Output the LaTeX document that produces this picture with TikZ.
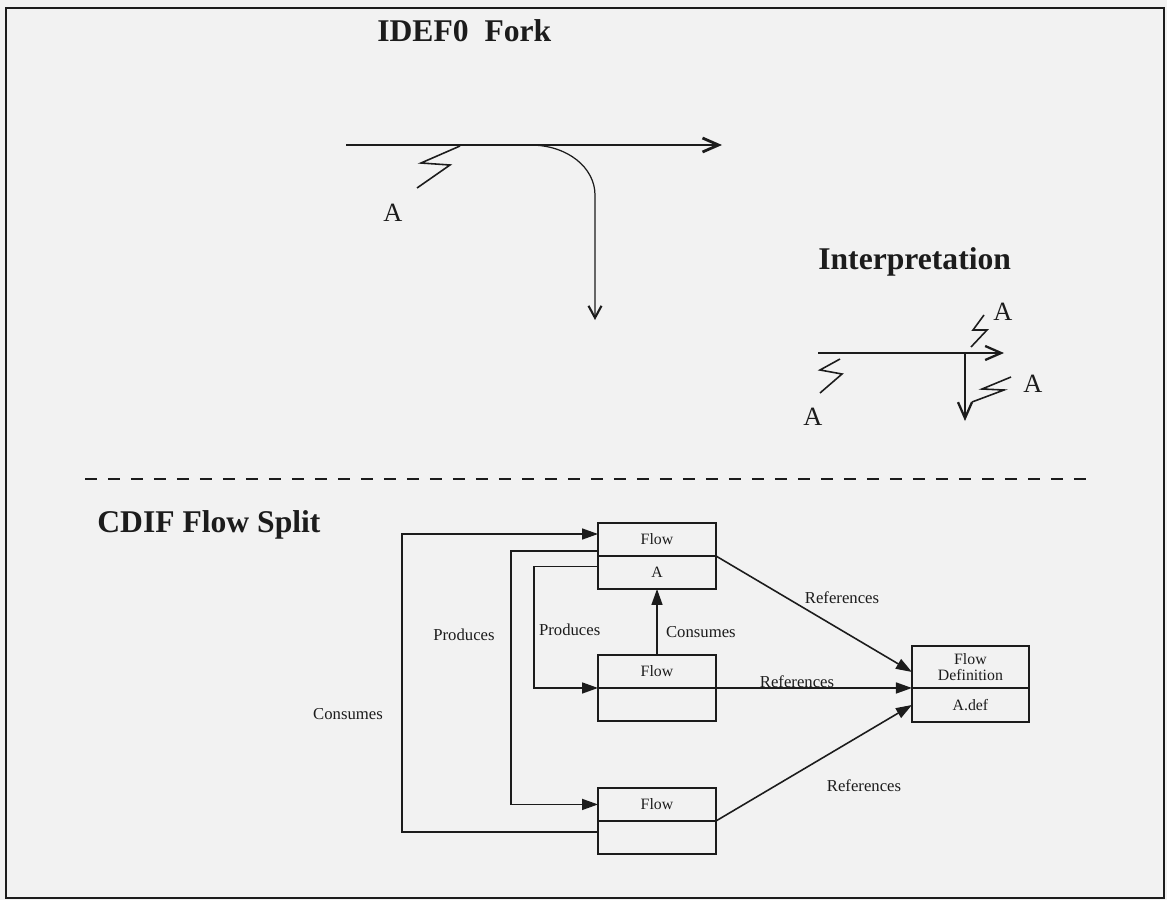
\documentclass[tikz,border=0pt]{standalone}
\usepackage{fontspec}
\setmainfont{Liberation Serif}
\usetikzlibrary{arrows.meta, positioning}
\definecolor{paper}{RGB}{242,242,242}
\definecolor{ink}{RGB}{28,28,28}

\begin{document}
\begin{tikzpicture}[x=0.02cm, y=-0.02cm, color=ink,
    title/.style={font=\fontsize{18}{20}\selectfont\bfseries, anchor=base west, inner sep=0pt},
    letter/.style={font=\fontsize{15}{16}\selectfont, inner sep=0pt},
    squig/.style={line width=0.9pt},
    barb/.style={-{Straight Barb[length=3.2mm,width=2.8mm]}},
    part/.style={draw, line width=0.9pt, minimum width=2.36cm, minimum height=0.66cm, inner sep=0pt, outer sep=0pt, font=\fontsize{9}{9}\selectfont},
    rel/.style={-{Triangle[length=3.2mm,width=2.2mm]}, line width=0.9pt},
    lbl/.style={font=\fontsize{9.5}{10}\selectfont, inner sep=1pt},
    ]

    % Page and frame
    \fill[paper] (0,0) rectangle (1167,900);
    \draw[line width=1.2pt] (6,8) rectangle (1164,898);

    % Titles
    \node[title] (tfork) at (377,41) {IDEF0\ \ Fork};
    \node[title] (tinterp) at (818,269) {Interpretation};
    \node[title] (tcdif) at (97,532) {CDIF Flow Split};

    % IDEF0 fork
    \coordinate (forkin) at (346,145);
    \coordinate (forkout) at (722,145);
    \coordinate (forkbr) at (530,145);
    \coordinate (forkdown) at (595,320);
    \draw[barb, line width=1.6pt] (forkin) -- (forkout);
    \draw[line width=0.7pt, -{Straight Barb[length=2.4mm,width=2.6mm,line width=1.2pt]}] (forkbr) .. controls (568,145) and (595,168) .. (595,195) -- (forkdown);
    \draw[squig] (460,146) -- (421,163) -- (450,165) -- (417,188);
    \node[letter] (fa) at (393,213) {A};

    % Interpretation
    \coordinate (ipin) at (818,353);
    \coordinate (ipout) at (1004,353);
    \coordinate (ipsplit) at (965,353);
    \coordinate (ipdown) at (965,421);
    \draw[barb, line width=1.3pt] (ipin) -- (ipout);
    \draw[barb, line width=1.3pt] (ipsplit) -- (ipdown);
    \draw[squig] (840,359) -- (820,370) -- (842,374) -- (820,393);
    \draw[squig] (984,315) -- (973,330) -- (987,330) -- (971,347);
    \draw[squig] (972,402) -- (1004,390) -- (982,389) -- (1011,377);
    \node[letter] (ia1) at (813,417) {A};
    \node[letter] (ia2) at (1003,312) {A};
    \node[letter] (ia3) at (1033,384) {A};

    % Separator
    \draw[line width=1pt, dash pattern=on 0.24cm off 0.22cm] (85,479) -- (1088,479);

    % CDIF boxes
    \node[part] (topup) at (657,539.5) {Flow};
    \node[part, below=0pt of topup] (toplow) {A};
    \node[part, below=1.32cm of toplow] (midup) {Flow};
    \node[part, below=0pt of midup] (midlow) {};
    \node[part, below=1.34cm of midlow] (botup) {Flow};
    \node[part, below=0pt of botup] (botlow) {};
    \node[part, minimum width=2.34cm, minimum height=0.84cm, align=center, anchor=south west] (fdup) at ([xshift=3.92cm]midup.south east) {Flow\\Definition};
    \node[part, minimum width=2.34cm, minimum height=0.68cm, below=0pt of fdup] (fdlow) {A.def};

    % Relationships
    \draw[rel] ([yshift=1.1mm]botlow.west) -- ++(-196,0) |- ([yshift=1.1mm]topup.west);
    \draw[rel] ([yshift=-2.3mm]topup.west) -- ++(-87,0) |- (botup.west);
    \draw[rel] ([yshift=1.2mm]toplow.west) -- ++(-64,0) |- (midup.south west);
    \draw[rel] (midup.north) -- (toplow.south);
    \draw[rel] (topup.south east) -- ([yshift=-1mm]fdup.west);
    \draw[rel] (midup.south east) -- (fdup.south west);
    \draw[rel] (botup.south east) -- (fdlow.west);

    % Relationship labels
    \node[lbl] (lcons1) at (348,714) {Consumes};
    \node[lbl] (lprod1) at (464,635) {Produces};
    \node[lbl, anchor=west] (lprod2) at (537,630) {Produces};
    \node[lbl, anchor=west] (lcons2) at (664,632) {Consumes};
    \node[lbl] (lref1) at (842,598) {References};
    \node[lbl] (lref2) at (797,682) {References};
    \node[lbl] (lref3) at (864,786) {References};
\end{tikzpicture}
\end{document}
